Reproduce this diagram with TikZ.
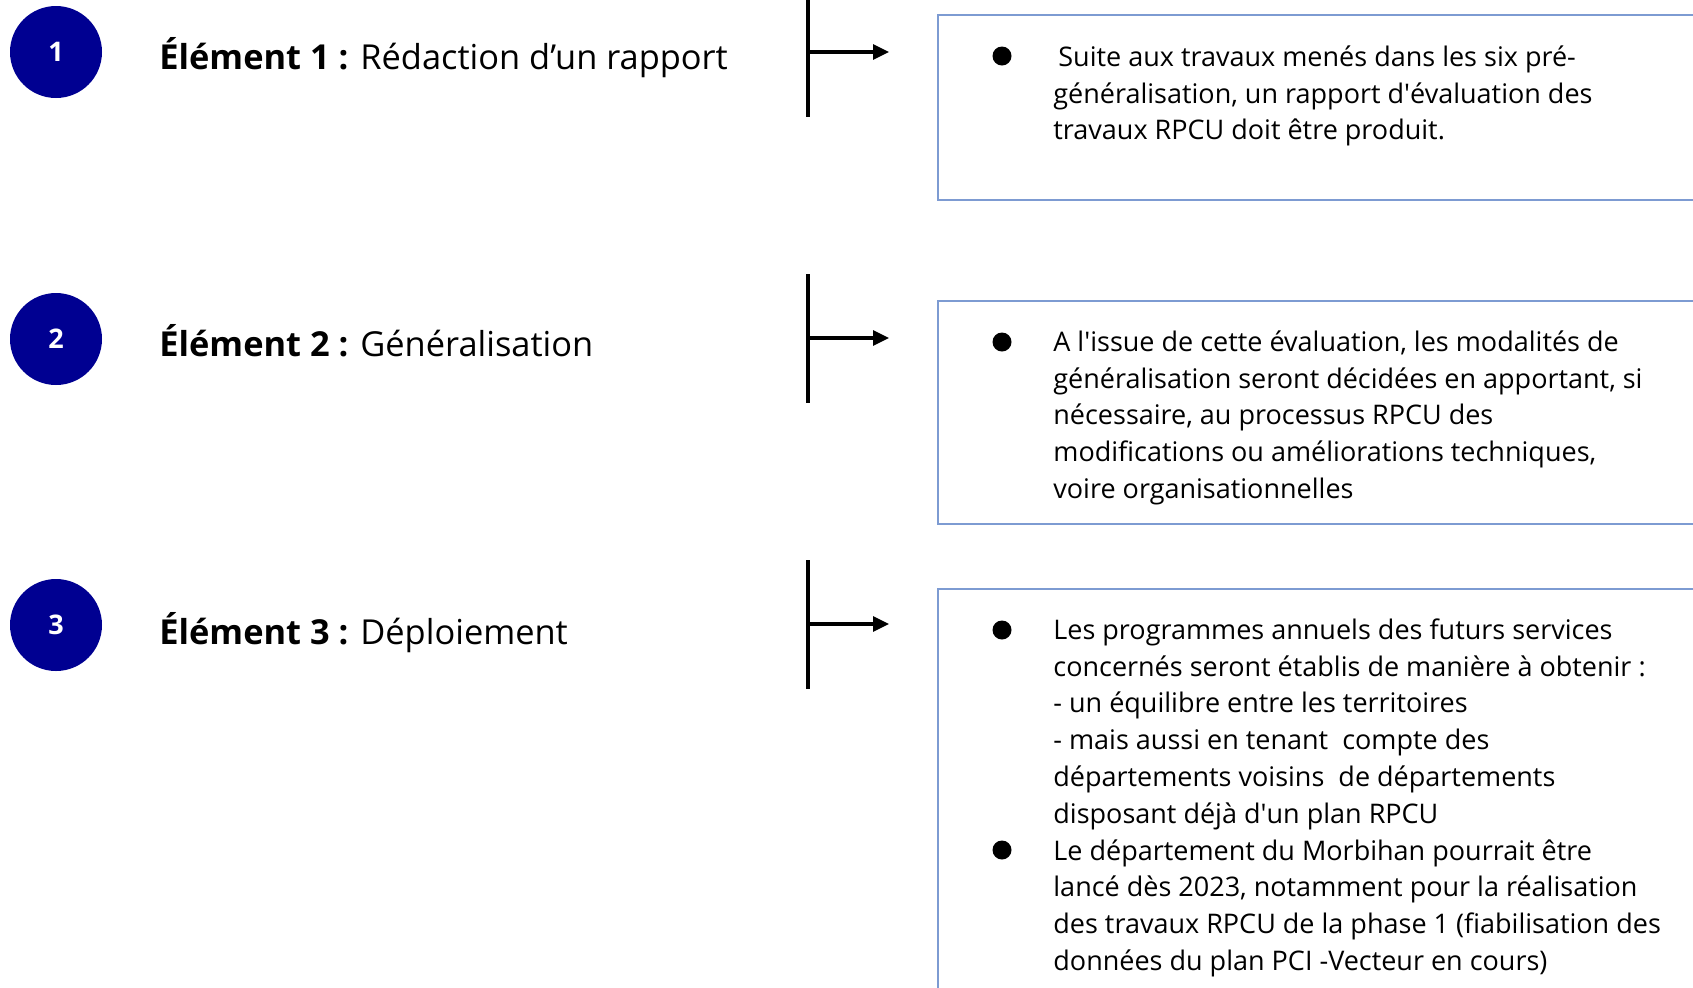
\documentclass[tikz,border=0pt]{standalone}
\usepackage{fontspec}
\setmainfont{Open Sans}
\usetikzlibrary{arrows.meta}
\definecolor{navy}{HTML}{000091}
\definecolor{boxblue}{RGB}{125,155,210}
\tikzset{
  numcirc/.style={circle, fill=navy, text=white, minimum size=46pt, inner sep=0pt, font=\fontsize{13.5}{16}\selectfont\bfseries},
  titletext/.style={anchor=base west, inner sep=0pt, font=\fontsize{17.2}{20}\selectfont},
  infobox/.style={draw=boxblue, line width=0.8pt, anchor=north west, inner sep=0pt},
  bodytext/.style={anchor=north west, inner sep=0pt, align=left, font=\fontsize{13.5}{18.4}\selectfont},
  bullet/.style={circle, fill=black, minimum size=9.5pt, inner sep=0pt},
  stem/.style={line width=1.6pt},
  pointer/.style={line width=1.6pt, -{Triangle[length=8pt, width=7.5pt]}}
}
\begin{document}
\begin{tikzpicture}[x=0.5pt, y=-0.5pt]
\useasboundingbox (0,0) rectangle (1693,987);
\clip (0,0) rectangle (1693,987);

% numbered circles
\node[numcirc] (c1) at (56,52) {1};
\node[numcirc] (c2) at (56,339) {2};
\node[numcirc] (c3) at (56,625) {3};

% titles
\node[titletext] (t1) at (159,69) {\textbf{Élément 1 :} Rédaction d’un rapport};
\node[titletext] (t2) at (159,356) {\textbf{Élément 2 :} Généralisation};
\node[titletext] (t3) at (159,644) {\textbf{Élément 3 :} Déploiement};

% stems and arrows
\coordinate (s1a) at (808,0);   \coordinate (s1b) at (808,117);
\coordinate (s1m) at (808,52);  \coordinate (a1) at (889,52);
\coordinate (s2a) at (808,274); \coordinate (s2b) at (808,403);
\coordinate (s2m) at (808,338); \coordinate (a2) at (889,338);
\coordinate (s3a) at (808,560); \coordinate (s3b) at (808,689);
\coordinate (s3m) at (808,624); \coordinate (a3) at (889,624);
\draw[stem] (s1a) -- (s1b);
\draw[stem] (s2a) -- (s2b);
\draw[stem] (s3a) -- (s3b);
\draw[pointer] (s1m) -- (a1);
\draw[pointer] (s2m) -- (a2);
\draw[pointer] (s3m) -- (a3);

% boxes
\node[infobox, minimum width=400pt, minimum height=92.5pt] (b1) at (937,14) {};
\node[infobox, minimum width=400pt, minimum height=111.5pt] (b2) at (937,300) {};
\node[infobox, minimum width=400pt, minimum height=220pt] (b3) at (937,588) {};

% bullets
\node[bullet] (d1) at (1002,56) {};
\node[bullet] (d2) at (1002,342) {};
\node[bullet] (d3) at (1002,630) {};
\node[bullet] (d4) at (1002,850) {};

% texts
\node[bodytext] (x1) at (1053,40.2) {\strut\hspace{2.5pt}Suite aux travaux menés dans les six pré-\\généralisation, un rapport d\textquotesingle évaluation des\\travaux RPCU doit être produit.};
\node[bodytext] (x2) at (1053,325.2) {\strut A l\textquotesingle issue de cette évaluation, les modalités de\\généralisation seront décidées en apportant, si\\nécessaire, au processus RPCU des\\modifications ou améliorations techniques,\\voire organisationnelles};
\node[bodytext] (x3) at (1053,613.2) {\strut Les programmes annuels des futurs services\\concernés seront établis de manière à obtenir :\\- un équilibre entre les territoires\\- mais aussi en tenant\ \ compte des\\départements voisins\ \ de départements\\disposant déjà d\textquotesingle un plan RPCU\\Le département du Morbihan pourrait être\\lancé dès 2023, notamment pour la réalisation\\des travaux RPCU de la phase 1 (fiabilisation des\\données du plan PCI -Vecteur en cours)};
\end{tikzpicture}
\end{document}
